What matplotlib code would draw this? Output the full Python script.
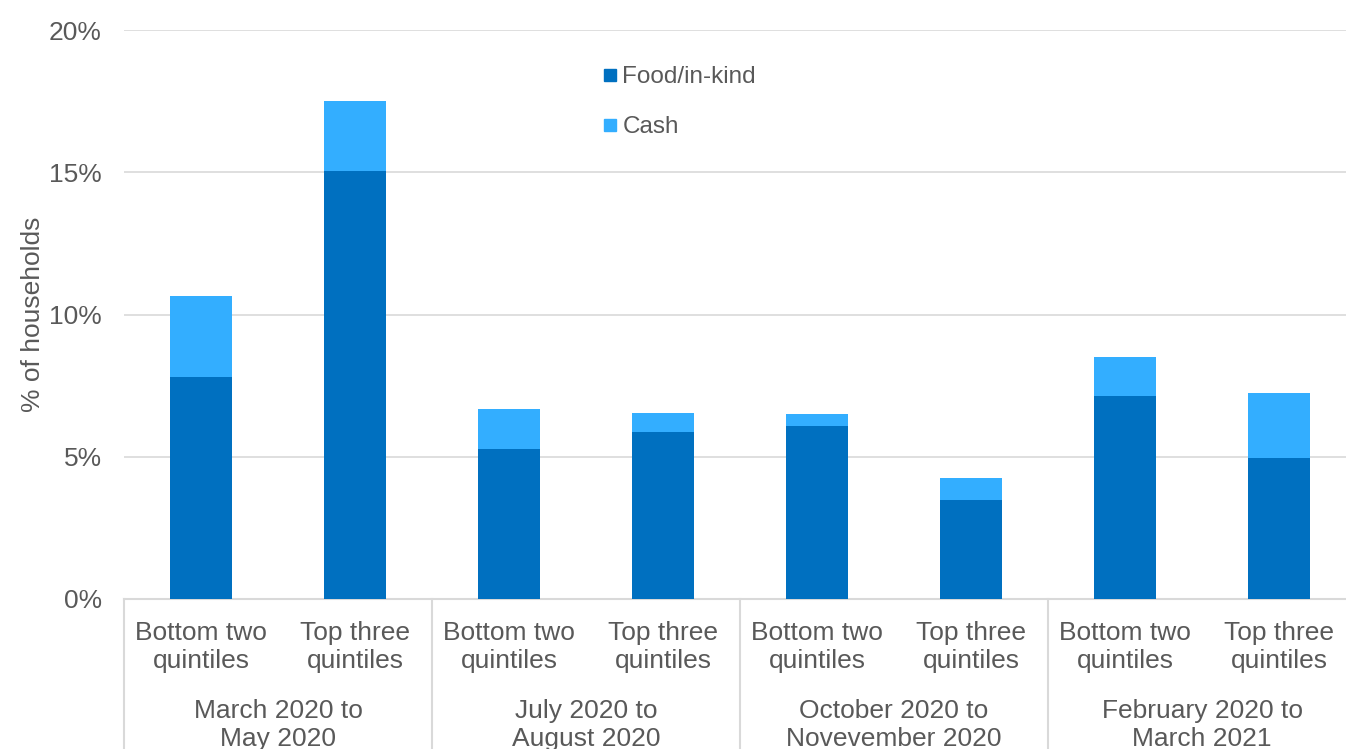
import matplotlib.pyplot as plt
import matplotlib.transforms as transforms
from matplotlib.lines import Line2D

plt.rcParams['font.family'] = ['Liberation Sans', 'DejaVu Sans']

periods = ["March 2020 to\nMay 2020", "July 2020 to\nAugust 2020",
           "October 2020 to\nNovevember 2020", "February 2020 to\nMarch 2021"]
groups = ["Bottom two\nquintiles", "Top three\nquintiles"]
food = [7.8, 15.05, 5.27, 5.87, 6.08, 3.48, 7.14, 4.96]
total = [10.65, 17.5, 6.68, 6.54, 6.5, 4.25, 8.51, 7.24]
cash = [t - f for t, f in zip(total, food)]

FOOD_COL = '#0070C0'
CASH_COL = '#33AEFF'
TEXT_COL = '#595959'
GRID_COL = '#D9D9D9'
FS = 19


def main():
    fig = plt.figure(figsize=(13.46, 7.49), dpi=100)
    ax = fig.add_axes([124 / 1346, 150 / 749, 1232 / 1346, 569 / 749])

    x = list(range(len(food)))
    ax.bar(x, food, width=0.4, color=FOOD_COL, zorder=3)
    ax.bar(x, cash, width=0.4, bottom=food, color=CASH_COL, zorder=3)

    ax.set_xlim(-0.5, len(food) - 0.5)
    ax.set_ylim(0, 20)
    ax.set_yticks([0, 5, 10, 15, 20])
    ax.set_yticklabels([f"{v}%" for v in [0, 5, 10, 15, 20]])
    ax.tick_params(axis='y', length=0, labelsize=FS, labelcolor=TEXT_COL, pad=16)
    ax.tick_params(axis='x', length=0, labelbottom=False)
    ax.grid(axis='y', color=GRID_COL, lw=1.2, zorder=0)
    for s in ['top', 'right', 'left']:
        ax.spines[s].set_visible(False)
    ax.spines['bottom'].set_color(GRID_COL)
    ax.spines['bottom'].set_linewidth(1.5)

    ax.set_ylabel("% of households", fontsize=FS, color=TEXT_COL, labelpad=3)

    # two-level category axis
    trans = transforms.blended_transform_factory(ax.transData, ax.transAxes)
    for i in x:
        ax.text(i, -0.085, groups[i % 2], transform=trans, ha='center', va='center',
                fontsize=FS, color=TEXT_COL, linespacing=1.2)
    for g, label in enumerate(periods):
        ax.text(2 * g + 0.5, -0.222, label, transform=trans, ha='center', va='center',
                fontsize=FS, color=TEXT_COL, linespacing=1.2)
    for b in range(len(periods) + 1):
        ax.add_line(Line2D([2 * b - 0.5, 2 * b - 0.5], [0, -0.3], transform=trans,
                           color=GRID_COL, lw=1.5, clip_on=False))

    handles = [Line2D([], [], marker='s', ls='none', color=FOOD_COL, markersize=8),
               Line2D([], [], marker='s', ls='none', color=CASH_COL, markersize=8)]
    leg = ax.legend(handles, ["Food/in-kind", "Cash"], loc='upper left',
                    bbox_to_anchor=(0.371, 0.975), frameon=False, fontsize=17.5,
                    handlelength=0.6, handletextpad=0.2, labelspacing=1.15)
    for t in leg.get_texts():
        t.set_color(TEXT_COL)

    fig.savefig("out.png", dpi=100)


if __name__ == "__main__":
    main()
